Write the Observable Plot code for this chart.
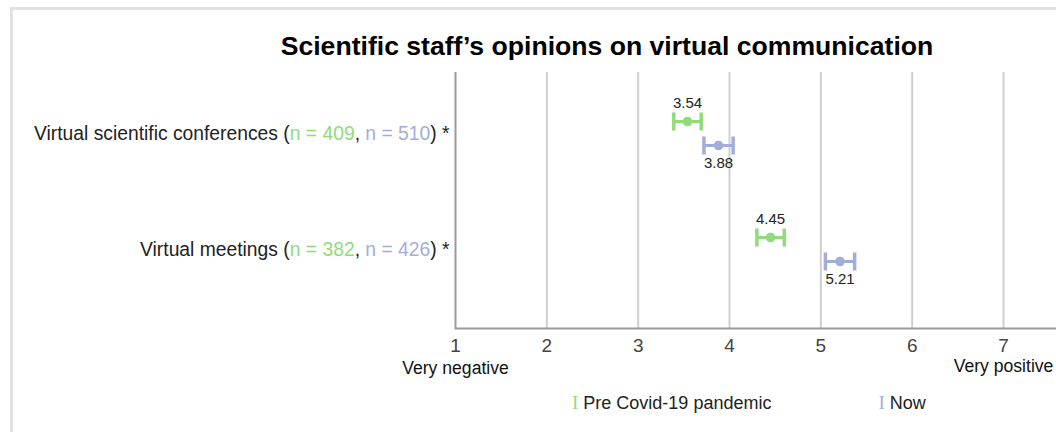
<!DOCTYPE html>
<html>
<head>
<meta charset="utf-8">
<script src="https://cdn.jsdelivr.net/npm/d3@7"></script>
<script src="https://cdn.jsdelivr.net/npm/@observablehq/plot@0.6"></script>
<style>
  html, body { margin: 0; padding: 0; background: #fff; overflow: hidden; }
  body { width: 1056px; height: 432px; position: relative; font-family: "Liberation Sans", Arial, sans-serif; }
  #frame { position: absolute; left: 10px; top: 7px; width: 1100px; height: 500px;
           border-left: 3px solid #e2e2e2; border-top: 3px solid #e2e2e2; }
  #title { position: absolute; left: 607px; top: 31px; transform: translateX(-50%);
           white-space: nowrap; font-weight: bold; font-size: 26.6px; line-height: 30px; color: #000; }
  #chart { position: absolute; left: 0; top: 62px; }
  #legend { position: absolute; left: 572px; top: 392px; display: flex; gap: 107px;
            font-size: 18px; line-height: 22px; color: #222; white-space: nowrap; }
  #legend .sym { font-family: "Liberation Serif", "DejaVu Serif", serif; margin-right: 5px; font-size: 19px; }
</style>
</head>
<body>
<div id="frame"></div>
<div id="title">Scientific staff’s opinions on virtual communication</div>
<div id="chart"></div>
<div id="legend"></div>
<script>
const categories = ["Virtual scientific conferences", "Virtual meetings"];
const nPre = [409, 382];
const nNow = [510, 426];
const preMean = [3.54, 4.45];
const nowMean = [3.88, 5.21];
const preErr = [0.15, 0.15];
const nowErr = [0.16, 0.16];
const seriesNames = ["Pre Covid-19 pandemic", "Now"];
const seriesColors = ["#90dc7a", "#a3aed8"];
const xTicks = [1, 2, 3, 4, 5, 6, 7];
const scaleEnds = ["Very negative", "Very positive"];

const pre = categories.map((c, i) => ({cat: c, mean: preMean[i], lo: preMean[i] - preErr[i], hi: preMean[i] + preErr[i]}));
const now = categories.map((c, i) => ({cat: c, mean: nowMean[i], lo: nowMean[i] - nowErr[i], hi: nowMean[i] + nowErr[i]}));

const cap = {draw(ctx) { ctx.moveTo(0, -9); ctx.lineTo(0, 9); }};

function series(data, color, dy, labelDy) {
  return [
    Plot.ruleY(data, {y: "cat", x1: "lo", x2: "hi", dy, stroke: color, strokeWidth: 3}),
    Plot.dot(data, {y: "cat", x: "lo", dy, symbol: cap, stroke: color, strokeWidth: 3.5, fill: "none"}),
    Plot.dot(data, {y: "cat", x: "hi", dy, symbol: cap, stroke: color, strokeWidth: 3.5, fill: "none"}),
    Plot.dot(data, {y: "cat", x: "mean", dy, r: 4.8, fill: color, stroke: "none"}),
    Plot.text(data, {y: "cat", x: "mean", dy: labelDy, text: d => d.mean.toFixed(2), fontSize: 15, fill: "#222"})
  ];
}

const H = 330;
const chart = Plot.plot({
  width: 1056,
  height: H,
  marginTop: 10,
  marginBottom: H - 266,
  marginLeft: 455,
  marginRight: 0,
  style: {fontFamily: "Liberation Sans, Arial, sans-serif", background: "transparent"},
  x: {domain: [1, 7], range: [455, 1003]},
  y: {type: "point", domain: categories, range: [71, 187], padding: 0},
  marks: [
    Plot.ruleX(xTicks.slice(1), {stroke: "#cfcfcf", strokeWidth: 2}),
    Plot.ruleX([1], {stroke: "#9a9a9a", strokeWidth: 2}),
    Plot.frame({anchor: "bottom", stroke: "#9a9a9a", strokeWidth: 2}),
    Plot.axisX({ticks: xTicks, tickSize: 0, tickPadding: 10, fontSize: 19, color: "#444", label: null, tickFormat: d => String(d)}),
    Plot.axisY({tickSize: 0, tickPadding: 6, fontSize: 19.3, color: "#222", label: null}),
    ...series(pre, seriesColors[0], -12, -30),
    ...series(now, seriesColors[1], 12, 30),
    Plot.text([{x: 1, t: scaleEnds[0]}], {x: "x", text: "t", frameAnchor: "bottom", dy: 45, fontSize: 17.6, fill: "#111"}),
    Plot.text([{x: 7, t: scaleEnds[1]}], {x: "x", text: "t", frameAnchor: "bottom", dy: 43, fontSize: 17.6, fill: "#111"})
  ]
});
document.getElementById("chart").appendChild(chart);

// colour the sample sizes inside the category tick labels
const NS = "http://www.w3.org/2000/svg";
chart.querySelectorAll('[aria-label="y-axis tick label"] text').forEach(t => {
  const i = categories.indexOf(t.textContent);
  if (i < 0) return;
  t.textContent = "";
  const parts = [
    [categories[i] + " (", null],
    ["n = " + nPre[i], seriesColors[0]],
    [", ", null],
    ["n = " + nNow[i], seriesColors[1]],
    [") *", null]
  ];
  for (const [s, c] of parts) {
    const ts = document.createElementNS(NS, "tspan");
    ts.textContent = s;
    if (c) ts.setAttribute("fill", c);
    t.appendChild(ts);
  }
});

const legend = document.getElementById("legend");
seriesNames.forEach((name, i) => {
  const item = document.createElement("span");
  const sym = document.createElement("span");
  sym.className = "sym";
  sym.style.color = seriesColors[i];
  sym.textContent = "I";
  item.appendChild(sym);
  item.appendChild(document.createTextNode(name));
  legend.appendChild(item);
});
</script>
</body>
</html>
